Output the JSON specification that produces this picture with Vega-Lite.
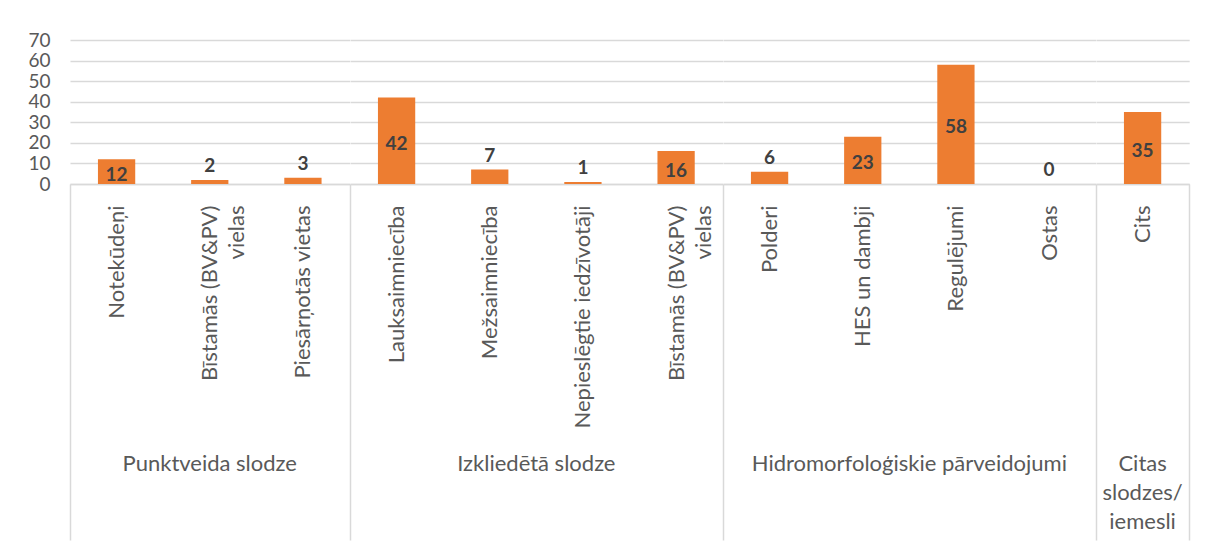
{
  "$schema": "https://vega.github.io/schema/vega-lite/v6.json",
  "background": "white",
  "padding": {"left": 27, "top": 31, "right": 8, "bottom": 0},
  "bounds": "flush",
  "data": {
    "values": [
      {"grupa": "Punktveida slodze", "kategorija": "Notekūdeņi", "skaits": 12},
      {"grupa": "Punktveida slodze", "kategorija": "Bīstamās (BV&PV) vielas", "skaits": 2},
      {"grupa": "Punktveida slodze", "kategorija": "Piesārņotās vietas", "skaits": 3},
      {"grupa": "Izkliedētā slodze", "kategorija": "Lauksaimniecība", "skaits": 42},
      {"grupa": "Izkliedētā slodze", "kategorija": "Mežsaimniecība", "skaits": 7},
      {"grupa": "Izkliedētā slodze", "kategorija": "Nepieslēgtie iedzīvotāji", "skaits": 1},
      {"grupa": "Izkliedētā slodze", "kategorija": "Bīstamās (BV&PV) vielas", "skaits": 16},
      {"grupa": "Hidromorfoloģiskie pārveidojumi", "kategorija": "Polderi", "skaits": 6},
      {"grupa": "Hidromorfoloģiskie pārveidojumi", "kategorija": "HES un dambji", "skaits": 23},
      {"grupa": "Hidromorfoloģiskie pārveidojumi", "kategorija": "Regulējumi", "skaits": 58},
      {"grupa": "Hidromorfoloģiskie pārveidojumi", "kategorija": "Ostas", "skaits": 0},
      {"grupa": "Citas slodzes/ iemesli", "kategorija": "Cits", "skaits": 35}
    ]
  },
  "facet": {
    "column": {
      "field": "grupa",
      "type": "nominal",
      "sort": ["Punktveida slodze", "Izkliedētā slodze", "Hidromorfoloģiskie pārveidojumi", "Citas slodzes/ iemesli"],
      "header": {
        "title": null,
        "labelOrient": "bottom",
        "labelFont": "Lato",
        "labelFontSize": 22,
        "labelColor": "#595959",
        "labelPadding": 270,
        "labelLineHeight": 29,
        "labelExpr": "datum.value == 'Citas slodzes/ iemesli' ? ['Citas', 'slodzes/', 'iemesli'] : datum.value"
      }
    }
  },
  "spacing": 0,
  "resolve": {"scale": {"x": "independent"}},
  "spec": {
    "width": {"step": 93.17},
    "height": 144,
    "encoding": {
      "x": {
        "field": "kategorija",
        "type": "nominal",
        "sort": null,
        "scale": {"paddingInner": 0, "paddingOuter": 0},
        "axis": {
          "title": null,
          "labelAngle": 270,
          "labelAlign": "right",
          "labelBaseline": "middle",
          "labelFont": "Lato",
          "labelFontSize": 22,
          "labelColor": "#595959",
          "labelPadding": -335,
          "labelLineHeight": 27,
          "labelLimit": 400,
          "labelExpr": "datum.label == 'Bīstamās (BV&PV) vielas' ? ['Bīstamās (BV&PV)', 'vielas'] : datum.label",
          "tickBand": "extent",
          "tickSize": 356,
          "tickWidth": 1.5,
          "tickColor": {"condition": {"test": "datum.extra || datum.value === 'Cits'", "value": "#D9D9D9"}, "value": "rgba(0,0,0,0)"},
          "domainColor": "#D9D9D9",
          "domainWidth": 1.5,
          "grid": false
        }
      }
    },
    "layer": [
      {
        "mark": {"type": "bar", "color": "#ED7D31", "width": {"band": 0.4}},
        "encoding": {
          "y": {
            "field": "skaits",
            "type": "quantitative",
            "scale": {"domain": [0, 70]},
            "axis": {"title": null, "values": [0, 10, 20, 30, 40, 50, 60, 70]}
          }
        }
      },
      {
        "transform": [
          {"filter": "datum.skaits >= 10"},
          {"calculate": "datum.skaits / 2", "as": "vidus"}
        ],
        "mark": {"type": "text", "font": "Lato", "fontSize": 19, "fontWeight": "bold", "color": "#404040", "baseline": "middle", "dy": 3},
        "encoding": {
          "y": {"field": "vidus", "type": "quantitative", "axis": {"title": null, "values": [0, 10, 20, 30, 40, 50, 60, 70]}},
          "text": {"field": "skaits", "type": "quantitative"}
        }
      },
      {
        "transform": [{"filter": "datum.skaits < 10"}],
        "mark": {"type": "text", "font": "Lato", "fontSize": 19, "fontWeight": "bold", "color": "#404040", "baseline": "alphabetic", "dy": -8},
        "encoding": {
          "y": {"field": "skaits", "type": "quantitative", "axis": {"title": null, "values": [0, 10, 20, 30, 40, 50, 60, 70]}},
          "text": {"field": "skaits", "type": "quantitative"}
        }
      }
    ]
  },
  "config": {
    "view": {"stroke": null},
    "axisY": {
      "domain": false,
      "ticks": false,
      "labelFont": "Lato",
      "labelFontSize": 19,
      "labelColor": "#595959",
      "labelPadding": 20,
      "gridColor": "#D9D9D9",
      "gridWidth": 1.5
    }
  }
}
